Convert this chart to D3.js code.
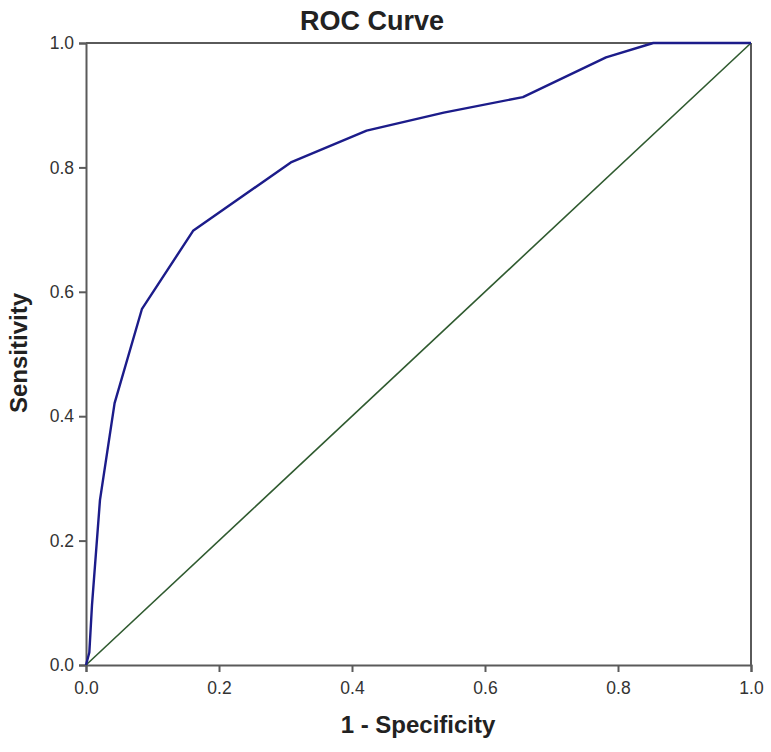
<!DOCTYPE html>
<html>
<head>
<meta charset="utf-8">
<script src="https://cdn.jsdelivr.net/npm/d3@7"></script>
<style>
  body { margin: 0; background: #fff; }
  text { font-family: "Liberation Sans", Arial, sans-serif; }
</style>
</head>
<body>
<div id="scene"></div>
<script>
// ROC points: 1 - specificity / sensitivity
var fpr = [0, 0.005, 0.009, 0.021, 0.043, 0.084, 0.161, 0.308, 0.422, 0.538, 0.657, 0.782, 0.853, 0.979, 1.0];
var tpr = [0, 0.02, 0.096, 0.265, 0.421, 0.572, 0.698, 0.808, 0.859, 0.888, 0.913, 0.977, 1.0, 1.0, 1.0];
var refLine = [0, 1];
var tickVals = [0, 0.2, 0.4, 0.6, 0.8, 1.0];

var ctx = {
  w: 771,
  h: 752,
  left: 86,
  right: 751,
  top: 43,
  bottom: 665,
};

var svg = d3.select("#scene").append("svg")
  .attr("width", ctx.w)
  .attr("height", ctx.h);

var x = d3.scaleLinear().domain([0, 1]).range([ctx.left, ctx.right]);
var y = d3.scaleLinear().domain([0, 1]).range([ctx.bottom, ctx.top]);

var axisColor = "#5a5a5a";

// frame (top and right)
svg.append("line")
  .attr("x1", x(0)).attr("x2", x(1))
  .attr("y1", y(1)).attr("y2", y(1))
  .attr("stroke", axisColor).attr("stroke-width", 2);
svg.append("line")
  .attr("x1", x(1)).attr("x2", x(1))
  .attr("y1", y(0)).attr("y2", y(1))
  .attr("stroke", axisColor).attr("stroke-width", 2);

var xAxis = svg.append("g")
  .attr("transform", "translate(0," + ctx.bottom + ")")
  .call(d3.axisBottom(x).tickValues(tickVals).tickFormat(d3.format(".1f")).tickSizeOuter(0).tickSize(7).tickPadding(10));

var yAxis = svg.append("g")
  .attr("transform", "translate(" + ctx.left + ",0)")
  .call(d3.axisLeft(y).tickValues(tickVals).tickFormat(d3.format(".1f")).tickSizeOuter(0).tickSize(7).tickPadding(5));

[xAxis, yAxis].forEach(function(g) {
  g.select(".domain").attr("stroke", axisColor).attr("stroke-width", 2);
  g.selectAll(".tick line").attr("stroke", axisColor).attr("stroke-width", 2);
  g.selectAll(".tick text")
    .attr("fill", "#333")
    .style("font-size", "17.5px")
    .style("font-family", "'Liberation Sans', Arial, sans-serif");
});

// diagonal reference
svg.append("line")
  .attr("x1", x(refLine[0])).attr("y1", y(refLine[0]))
  .attr("x2", x(refLine[1])).attr("y2", y(refLine[1]))
  .attr("stroke", "#2f5a2f").attr("stroke-width", 1.6);

// ROC curve
var pts = fpr.map(function(d, i) { return [d, tpr[i]]; });
svg.append("path")
  .datum(pts)
  .attr("fill", "none")
  .attr("stroke", "#1c1c8a")
  .attr("stroke-width", 2.4)
  .attr("stroke-linejoin", "round")
  .attr("d", d3.line().x(function(d) { return x(d[0]); }).y(function(d) { return y(d[1]); }));

// titles
svg.append("text")
  .attr("x", 372).attr("y", 30)
  .attr("text-anchor", "middle")
  .style("font-size", "27px").style("font-weight", "bold")
  .attr("fill", "#222")
  .text("ROC Curve");

svg.append("text")
  .attr("x", 418).attr("y", 733)
  .attr("text-anchor", "middle")
  .style("font-size", "24px").style("font-weight", "bold")
  .attr("fill", "#222")
  .text("1 - Specificity");

svg.append("text")
  .attr("transform", "translate(27," + 353 + ") rotate(-90)")
  .attr("text-anchor", "middle")
  .style("font-size", "24px").style("font-weight", "bold")
  .attr("fill", "#222")
  .text("Sensitivity");
</script>
</body>
</html>
